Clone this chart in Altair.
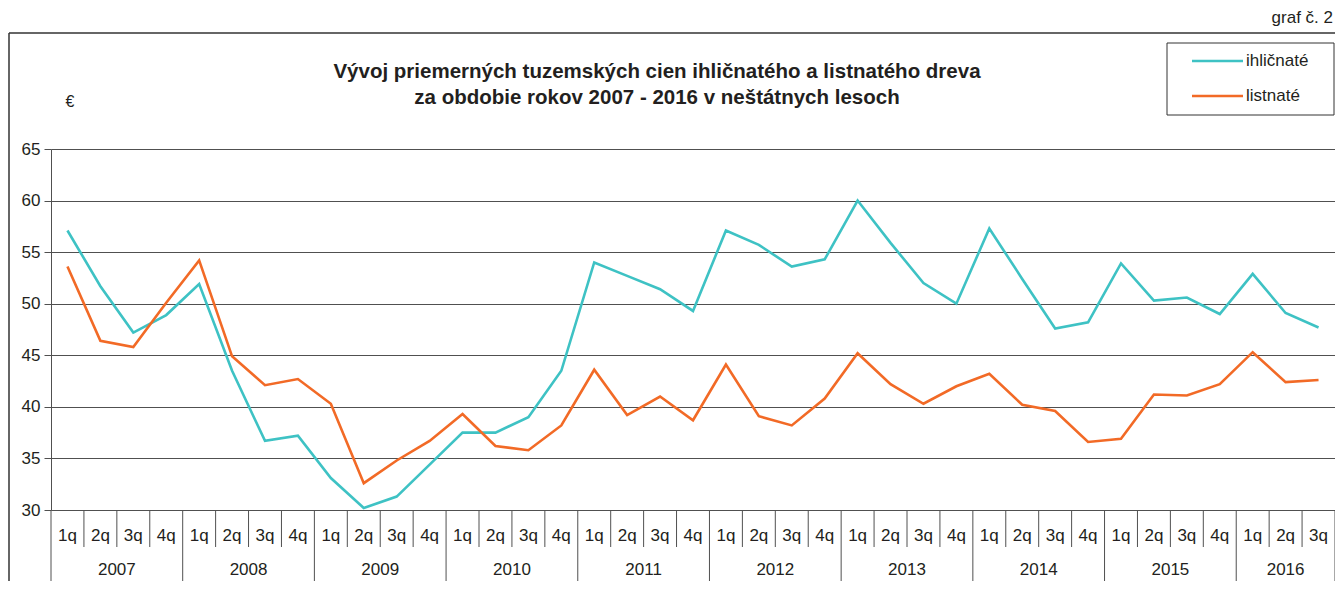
import altair as alt
import pandas as pd

# ---------------- data ----------------
years = ["2007", "2008", "2009", "2010", "2011", "2012", "2013", "2014", "2015", "2016"]
quarters = ["1q", "2q", "3q", "4q"]
series_names = ["ihličnaté", "listnaté"]
series_colors = ["#3ec2c4", "#f26a26"]

ihlicnate = [57.1, 51.7, 47.2, 48.9,
             51.9, 43.5, 36.7, 37.2,
             33.1, 30.2, 31.3, 34.4,
             37.5, 37.5, 39.0, 43.5,
             54.0, 52.7, 51.4, 49.3,
             57.1, 55.7, 53.6, 54.3,
             60.0, 55.9, 52.0, 50.0,
             57.3, 52.4, 47.6, 48.2,
             53.9, 50.3, 50.6, 49.0,
             52.9, 49.1, 47.7]
listnate = [53.6, 46.4, 45.8, 50.1,
            54.2, 44.9, 42.1, 42.7,
            40.3, 32.6, 34.8, 36.7,
            39.3, 36.2, 35.8, 38.2,
            43.6, 39.2, 41.0, 38.7,
            44.1, 39.1, 38.2, 40.8,
            45.2, 42.2, 40.3, 42.0,
            43.2, 40.2, 39.6, 36.6,
            36.9, 41.2, 41.1, 42.2,
            45.3, 42.4, 42.6]
y_ticks = [30, 35, 40, 45, 50, 55, 60, 65]
title_lines = ["Vývoj priemerných tuzemských cien ihličnatého a listnatého dreva",
               "za obdobie rokov 2007 - 2016 v neštátnych lesoch"]
unit_label = "€"
graph_label = "graf č. 2"

# ---------------- layout / style ----------------
W, H = 1284, 361
FONT = "Liberation Sans"
TXT = "#231f20"
GRID = "#505050"

n = len(ihlicnate)
rows = []
for i in range(n):
    rows.append({"pos": i + 0.5, "series": series_names[0], "value": ihlicnate[i]})
    rows.append({"pos": i + 0.5, "series": series_names[1], "value": listnate[i]})
lines_df = pd.DataFrame(rows)

q_df = pd.DataFrame([{"pos": i + 0.5, "q": quarters[i % 4]} for i in range(n)])
qb_df = pd.DataFrame([{"pos": b} for b in range(n + 1) if not (b % 4 == 0 or b == n)])
yb_df = pd.DataFrame([{"pos": b} for b in range(n + 1) if (b % 4 == 0 or b == n)])
yl_df = pd.DataFrame([{"pos": (4 * k + min(4 * k + 4, n)) / 2, "year": yr}
                      for k, yr in enumerate(years)])

xs = alt.Scale(domain=[0, n], nice=False, zero=False)
ys = alt.Scale(domain=[30, 65], nice=False, zero=False)

def X():
    return alt.X("pos:Q", scale=xs, axis=None)

lines = alt.Chart(lines_df).mark_line(strokeWidth=2.6).encode(
    x=X(),
    y=alt.Y("value:Q", scale=ys, axis=alt.Axis(
        values=y_ticks, grid=True, gridColor=GRID, gridWidth=1,
        domain=True, domainColor=GRID, tickColor=GRID, tickSize=7,
        labelFontSize=17, labelFont=FONT, labelColor=TXT, labelPadding=4,
        title=None)),
    color=alt.Color("series:N", scale=alt.Scale(domain=series_names, range=series_colors),
                    legend=None),
)

q_ticks = alt.Chart(qb_df).mark_rule(color=GRID, strokeWidth=1).encode(
    x=X(), y=alt.value(H), y2=alt.value(H + 37))
y_ticks_r = alt.Chart(yb_df).mark_rule(color=GRID, strokeWidth=1).encode(
    x=X(), y=alt.value(H), y2=alt.value(H + 72))
q_text = alt.Chart(q_df).mark_text(font=FONT, fontSize=17, color=TXT, baseline="middle").encode(
    x=X(), y=alt.value(H + 26), text="q:N")
y_text = alt.Chart(yl_df).mark_text(font=FONT, fontSize=17, color=TXT, baseline="middle").encode(
    x=X(), y=alt.value(H + 60), text="year:N")

one = pd.DataFrame([{"a": 0}])
frame_top = alt.Chart(one).mark_rule(color="#333333", strokeWidth=1.5).encode(
    x=alt.value(-42), x2=alt.value(W + 10), y=alt.value(-116))
frame_left = alt.Chart(one).mark_rule(color="#333333", strokeWidth=1.5).encode(
    x=alt.value(-42), y=alt.value(-116), y2=alt.value(H + 80))

title_layers = [
    alt.Chart(one).mark_text(font=FONT, fontSize=20.5, fontWeight="bold", color=TXT,
                             align="center", baseline="middle", text=t).encode(
        x=alt.value(606), y=alt.value(-77 + 26 * k))
    for k, t in enumerate(title_lines)
]
unit_text = alt.Chart(one).mark_text(font=FONT, fontSize=16, color=TXT, align="center",
                                     baseline="middle", text=unit_label).encode(
    x=alt.value(19), y=alt.value(-47))
graf_text = alt.Chart(one).mark_text(font=FONT, fontSize=17, color=TXT, align="right",
                                     baseline="middle", text=graph_label).encode(
    x=alt.value(W - 2), y=alt.value(-131))

legend_box = alt.Chart(one).mark_rect(fill="white", stroke="#333333", strokeWidth=1).encode(
    x=alt.value(1116), x2=alt.value(1283), y=alt.value(-106), y2=alt.value(-34))
legend_layers = []
for k, (name, col) in enumerate(zip(series_names, series_colors)):
    yy = -88 + 35 * k
    legend_layers.append(alt.Chart(one).mark_rule(color=col, strokeWidth=2.6).encode(
        x=alt.value(1141), x2=alt.value(1192), y=alt.value(yy)))
    legend_layers.append(alt.Chart(one).mark_text(font=FONT, fontSize=17, color=TXT, align="left",
                                                  baseline="middle", text=name).encode(
        x=alt.value(1195), y=alt.value(yy)))

chart = alt.layer(
    frame_top, frame_left, q_ticks, y_ticks_r, q_text, y_text, lines,
    *title_layers, unit_text, graf_text, legend_box, *legend_layers
).properties(
    width=W, height=H,
    autosize=alt.AutoSizeParams(type="none"),
    padding={"left": 43, "top": 141, "right": 0, "bottom": 71},
).configure_view(strokeWidth=0).configure(font=FONT, background="white")

chart.save("out.html", embed_options={"renderer": "svg", "actions": False})
